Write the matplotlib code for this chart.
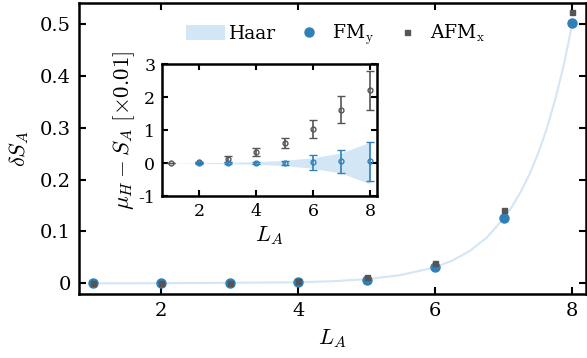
import matplotlib
matplotlib.use("Agg")
import matplotlib.pyplot as plt
from matplotlib.patches import Patch
from matplotlib.lines import Line2D

# ---------------------------------------------------------------------------
# Data
# ---------------------------------------------------------------------------
L_A = [1, 2, 3, 4, 5, 6, 7, 8]

# main panel: deviation from maximal entropy
dS_fm = [0.0, 0.0, 0.0, 0.002, 0.007, 0.031, 0.125, 0.502]
dS_afm = [0.0, 0.0, 0.001, 0.004, 0.012, 0.040, 0.142, 0.522]

# Haar curve at fine steps
haar_L = [1, 2, 3, 4, 4.5, 5, 5.5, 6, 6.25, 6.5, 6.75, 7, 7.125, 7.25,
          7.375, 7.5, 7.625, 7.75, 7.875, 8]
haar_dS = [0.0, 0.0002, 0.001, 0.002, 0.004, 0.008, 0.016, 0.031, 0.044,
           0.062, 0.088, 0.125, 0.149, 0.177, 0.210, 0.250, 0.297, 0.354,
           0.420, 0.500]

# inset: mu_H - S_A in units of 0.01
ins_fm_L = [2, 3, 4, 5, 6, 7, 8]
ins_fm = [0.0, 0.0, 0.0, 0.0, 0.02, 0.05, 0.05]
ins_fm_err = [0.02, 0.04, 0.03, 0.07, 0.22, 0.35, 0.6]

ins_afm = [0.0, 0.02, 0.12, 0.33, 0.61, 1.03, 1.62, 2.2]
ins_afm_err = [0.0, 0.02, 0.08, 0.11, 0.15, 0.27, 0.4, 0.6]

band_L = [1, 2, 3, 4, 5, 6, 7, 8]
band_hw = [0.0, 0.01, 0.02, 0.04, 0.08, 0.16, 0.31, 0.63]

BLUE = "#2f80b8"
GRAY = "#555555"
HAAR = "#d3e6f6"

plt.rcParams["font.family"] = ["DejaVu Serif"]
plt.rcParams["mathtext.fontset"] = "cm"
plt.rcParams["axes.unicode_minus"] = False

fig = plt.figure(figsize=(5.87, 3.58), dpi=100)

# ---------------------------------------------------------------------------
# Main panel
# ---------------------------------------------------------------------------
ax = fig.add_axes([0.1346, 0.1796, 0.8637, 0.812])
ax.plot(haar_L, haar_dS, color=HAAR, linewidth=1.5, zorder=1)
ax.plot(L_A, dS_fm, "o", color=BLUE, markersize=6.5, zorder=3)
ax.plot(L_A, dS_afm, "s", color=GRAY, markersize=3.6, zorder=4)

ax.set_xlim(0.8, 8.2)
ax.set_ylim(-0.02, 0.54)
ax.set_xticks([2, 4, 6, 8])
ax.set_xticklabels(["2", "4", "6", "8"])
ax.set_yticks([0, 0.1, 0.2, 0.3, 0.4, 0.5])
ax.set_yticklabels(["0", "0.1", "0.2", "0.3", "0.4", "0.5"])
ax.set_xlabel(r"$L_A$", fontsize=16, labelpad=5)
ax.set_ylabel(r"$\delta S_A$", fontsize=16, labelpad=6)
ax.tick_params(direction="in", top=True, right=True, length=5, width=1.5,
               labelsize=14, pad=6)
for sp in ax.spines.values():
    sp.set_linewidth(1.8)

handles = [
    Patch(facecolor=HAAR, edgecolor="none"),
    Line2D([], [], marker="o", color=BLUE, linestyle="none", markersize=6.5),
    Line2D([], [], marker="s", color=GRAY, linestyle="none", markersize=3.6),
]
labels = ["Haar", r"FM$_{\mathrm{y}}$", r"AFM$_{\mathrm{x}}$"]
ax.legend(handles, labels, ncol=3, frameon=False, loc="center left",
          bbox_to_anchor=(0.211, 0.89), borderpad=0, borderaxespad=0,
          fontsize=13.5, handlelength=2.1, handleheight=0.85,
          columnspacing=0.7, handletextpad=0.2)

# ---------------------------------------------------------------------------
# Inset
# ---------------------------------------------------------------------------
ins = fig.add_axes([0.2765, 0.4525, 0.3658, 0.3687])
lo = [-h for h in band_hw]
ins.fill_between(band_L, lo, band_hw, color=HAAR, linewidth=0, zorder=1)
ins.errorbar(L_A, ins_afm, yerr=ins_afm_err, fmt="o", color=GRAY,
             mfc="none", markersize=3.5, capsize=2.8, elinewidth=1.2,
             capthick=1.2, markeredgewidth=1.0, zorder=3)
ins.errorbar(ins_fm_L, ins_fm, yerr=ins_fm_err, fmt="o", color=BLUE,
             mfc="none", markersize=3.5, capsize=2.8, elinewidth=1.2,
             capthick=1.2, markeredgewidth=1.0, zorder=4)

ins.set_xlim(0.7, 8.25)
ins.set_ylim(-1, 3)
ins.set_xticks([2, 4, 6, 8])
ins.set_xticklabels(["2", "4", "6", "8"])
ins.set_yticks([-1, 0, 1, 2, 3])
ins.set_yticklabels(["-1", "0", "1", "2", "3"])
ins.set_xlabel(r"$L_A$", fontsize=16, labelpad=3)
ins.set_ylabel(r"$\mu_H - S_A\ [\times 0.01]$", fontsize=16.5, labelpad=1)
ins.tick_params(direction="in", top=True, right=True, length=4, width=1.5,
                labelsize=12.5, pad=5)
for sp in ins.spines.values():
    sp.set_linewidth(1.8)

fig.savefig("out.png", dpi=100)
plt.close(fig)
